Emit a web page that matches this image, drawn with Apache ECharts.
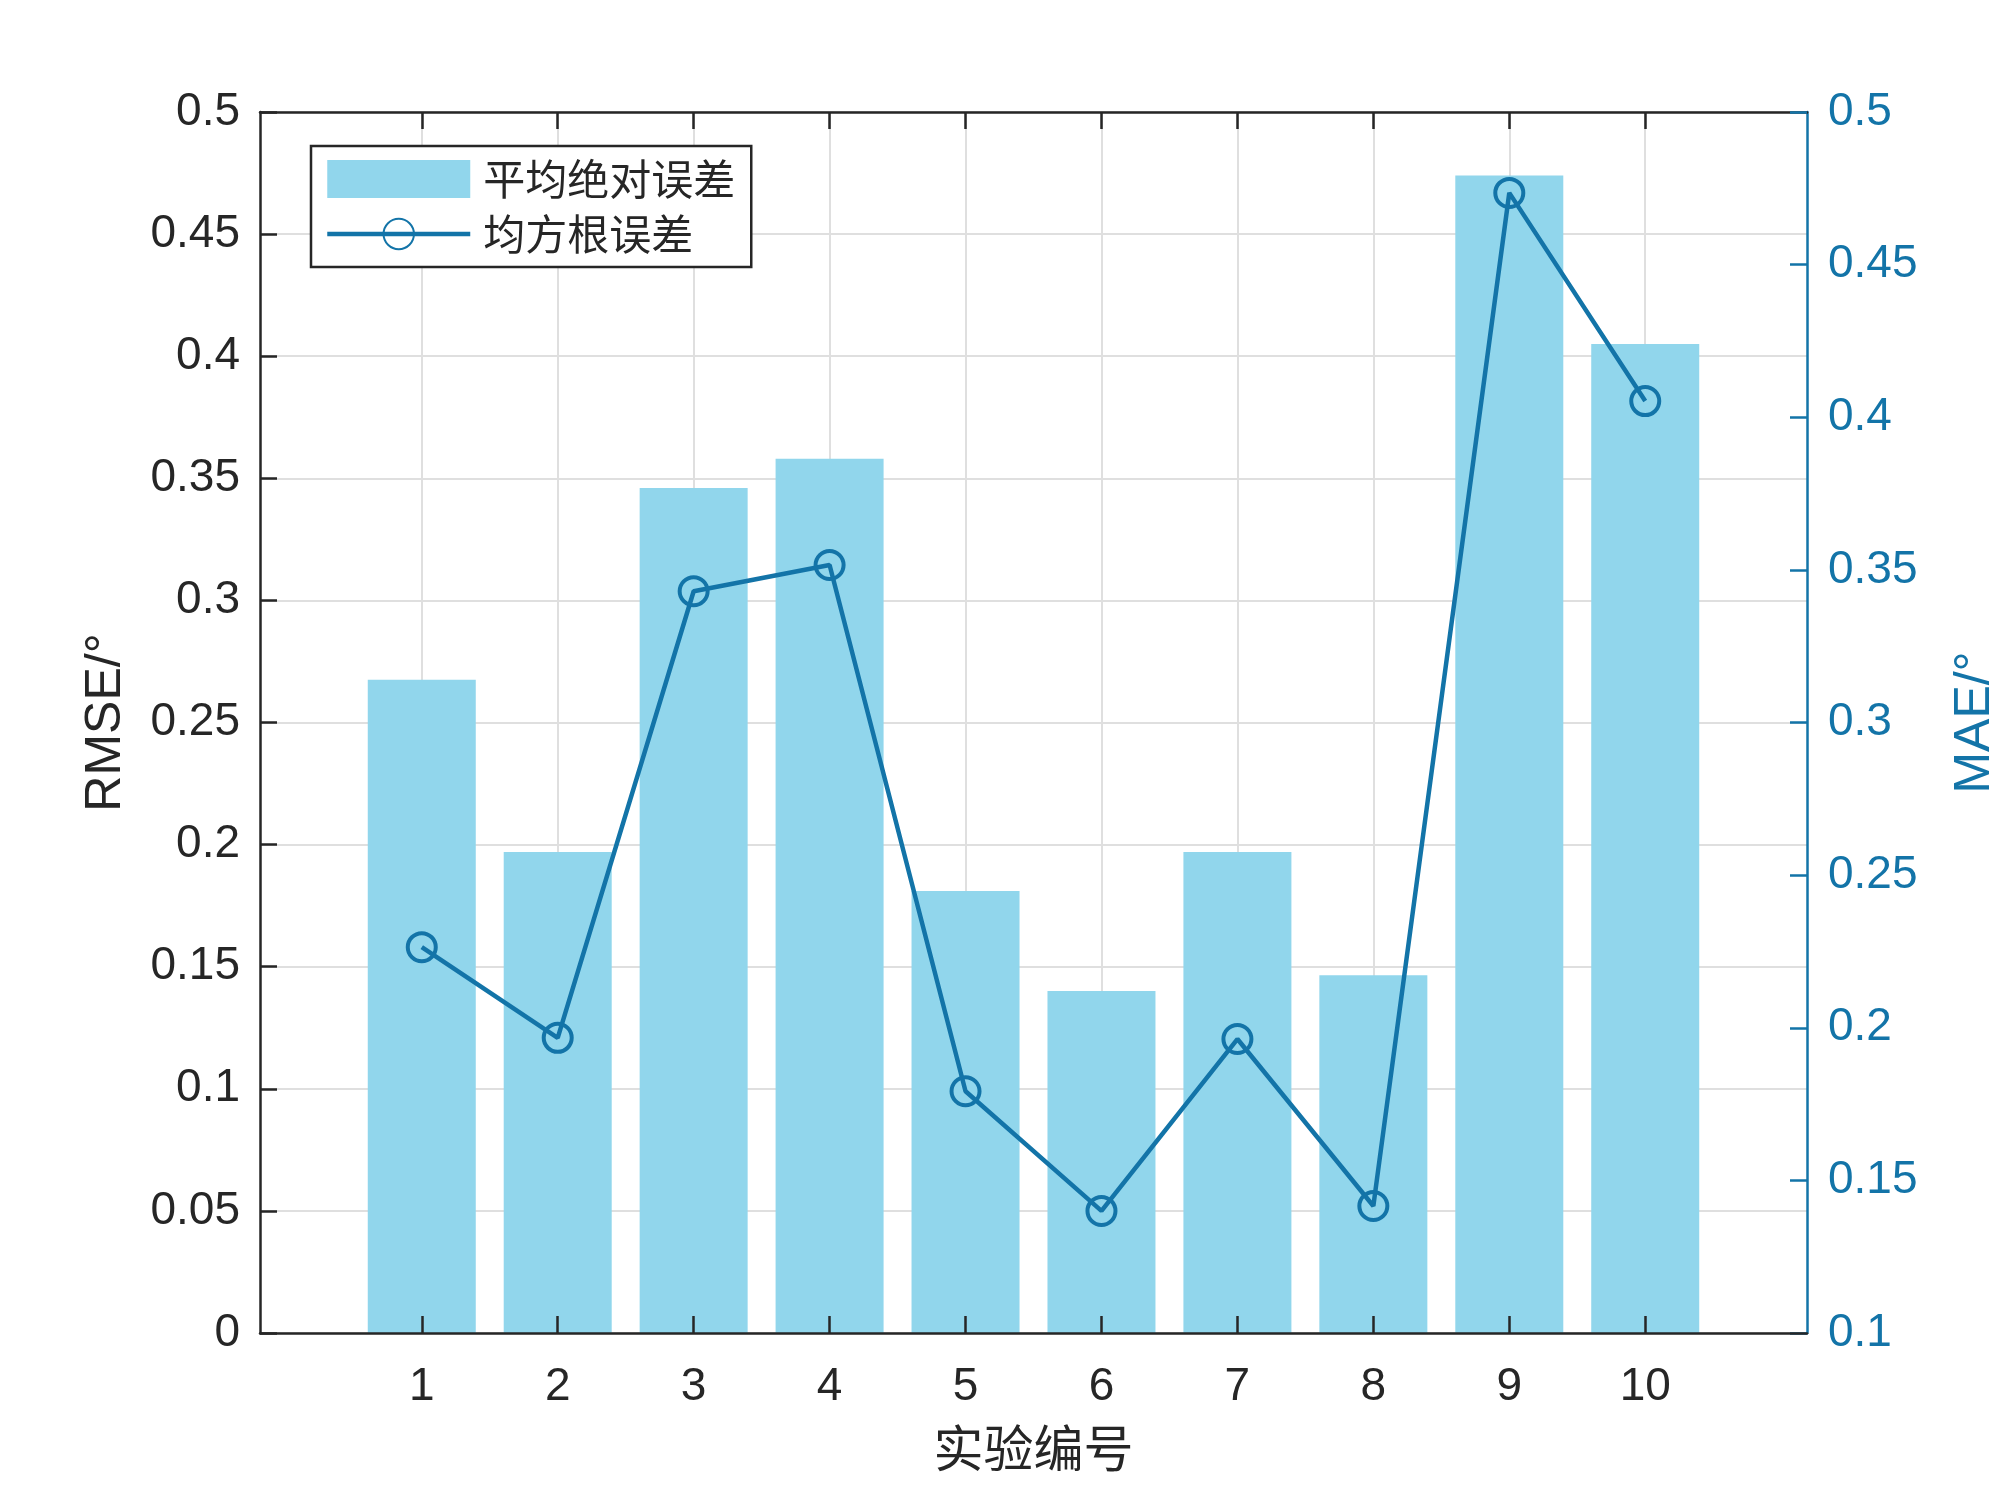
<!DOCTYPE html>
<html><head><meta charset="utf-8">
<script src="https://cdn.jsdelivr.net/npm/echarts@6/dist/echarts.min.js"></script>
<style>html,body{margin:0;padding:0;background:#fff}#c{width:2000px;height:1499px}</style>
</head><body><div id="c"></div>
<script>
// ---- data ----
const experiments = [1, 2, 3, 4, 5, 6, 7, 8, 9, 10];
const barValues = [0.2675, 0.197, 0.346, 0.358, 0.181, 0.140, 0.197, 0.1465, 0.474, 0.405];   // left axis (RMSE/°)
const lineValues = [0.2264, 0.1967, 0.343, 0.3516, 0.1792, 0.140, 0.1963, 0.1416, 0.4735, 0.4053]; // right axis (MAE/°)
const barName = '平均绝对误差';
const lineName = '均方根误差';
const xName = '实验编号';
const leftName = 'RMSE/°';
const rightName = 'MAE/°';

// ---- styles ----
const DARK = '#262626', BLUE = '#1374A8', BAR = '#91D6EC', GRID = '#DFDFDF';
const LATIN = 'Liberation Sans, Arial, sans-serif';
const CJK = 'Noto Sans CJK SC, sans-serif';
const fmt = v => String(+(+v).toFixed(2));

const chart = echarts.init(document.getElementById('c'), null, {renderer: 'canvas'});
chart.setOption({
  animation: false,
  backgroundColor: '#fff',
  grid: {left: 260, right: 193, top: 112, bottom: 166, containLabel: false, outerBoundsMode: 'none'},
  legend: {
    orient: 'vertical', left: 311, top: 146,
    padding: [12, 16, 12, 14], itemGap: 13, itemWidth: 143, itemHeight: 38,
    borderColor: DARK, borderWidth: 2.5, backgroundColor: '#fff',
    textStyle: {fontSize: 42, color: DARK, fontFamily: CJK, padding: [0, 0, 0, 8]},
    lineStyle: {width: 4.5, color: BLUE},
    data: [{name: barName, icon: 'rect'}, {name: lineName}]
  },
  xAxis: [
    {
      type: 'value', position: 'bottom', min: -0.19, max: 11.19, z: 5,
      axisLine: {show: true, onZero: false, lineStyle: {color: DARK, width: 2.5}},
      axisTick: {show: true, inside: true, length: 17, customValues: experiments, lineStyle: {color: DARK, width: 2.5}},
      axisLabel: {customValues: experiments, margin: 31, fontSize: 46, color: DARK, fontFamily: LATIN},
      splitLine: {show: false},
      name: xName, nameLocation: 'middle', nameGap: 90,
      nameTextStyle: {fontSize: 50, color: DARK, fontFamily: CJK}
    },
    {
      type: 'value', position: 'top', min: -0.19, max: 11.19,
      axisLine: {show: true, onZero: false, lineStyle: {color: DARK, width: 2.5}},
      axisTick: {show: true, inside: true, length: 17, customValues: experiments, lineStyle: {color: DARK, width: 2.5}},
      axisLabel: {show: false, customValues: experiments},
      splitLine: {show: true, lineStyle: {color: GRID, width: 2}}
    }
  ],
  yAxis: [
    {
      type: 'value', position: 'left', min: 0, max: 0.5, interval: 0.05,
      axisLine: {show: true, onZero: false, lineStyle: {color: DARK, width: 2.5}},
      axisTick: {show: true, inside: true, length: 17, lineStyle: {color: DARK, width: 2.5}},
      axisLabel: {margin: 20, fontSize: 46, color: DARK, fontFamily: LATIN, formatter: fmt, padding: [9, 0, 0, 0]},
      splitLine: {show: true, lineStyle: {color: GRID, width: 2}},
      name: leftName, nameLocation: 'middle', nameGap: 129,
      nameTextStyle: {fontSize: 50, color: DARK, fontFamily: LATIN}
    },
    {
      type: 'value', position: 'right', min: 0.1, max: 0.5, interval: 0.05,
      axisLine: {show: true, onZero: false, lineStyle: {color: BLUE, width: 2.5}},
      axisTick: {show: true, inside: true, length: 17, lineStyle: {color: BLUE, width: 2.5}},
      axisLabel: {margin: 21, fontSize: 46, color: BLUE, fontFamily: LATIN, formatter: fmt, padding: [9, 0, 0, 0]},
      splitLine: {show: false},
      name: rightName, nameLocation: 'middle', nameGap: 143,
      nameTextStyle: {fontSize: 50, color: BLUE, fontFamily: LATIN}
    }
  ],
  series: [
    {
      type: 'bar', name: barName, xAxisIndex: 0, yAxisIndex: 0,
      data: experiments.map((e, i) => [e, barValues[i]]),
      barWidth: 108, itemStyle: {color: BAR}, z: 2
    },
    {
      type: 'line', name: lineName, xAxisIndex: 0, yAxisIndex: 1,
      data: experiments.map((e, i) => [e, lineValues[i]]),
      symbol: 'circle', symbolSize: 28, showAllSymbol: true,
      lineStyle: {color: BLUE, width: 4.5},
      itemStyle: {color: 'transparent', borderColor: BLUE, borderWidth: 4},
      z: 3
    }
  ]
});
</script>
</body></html>
